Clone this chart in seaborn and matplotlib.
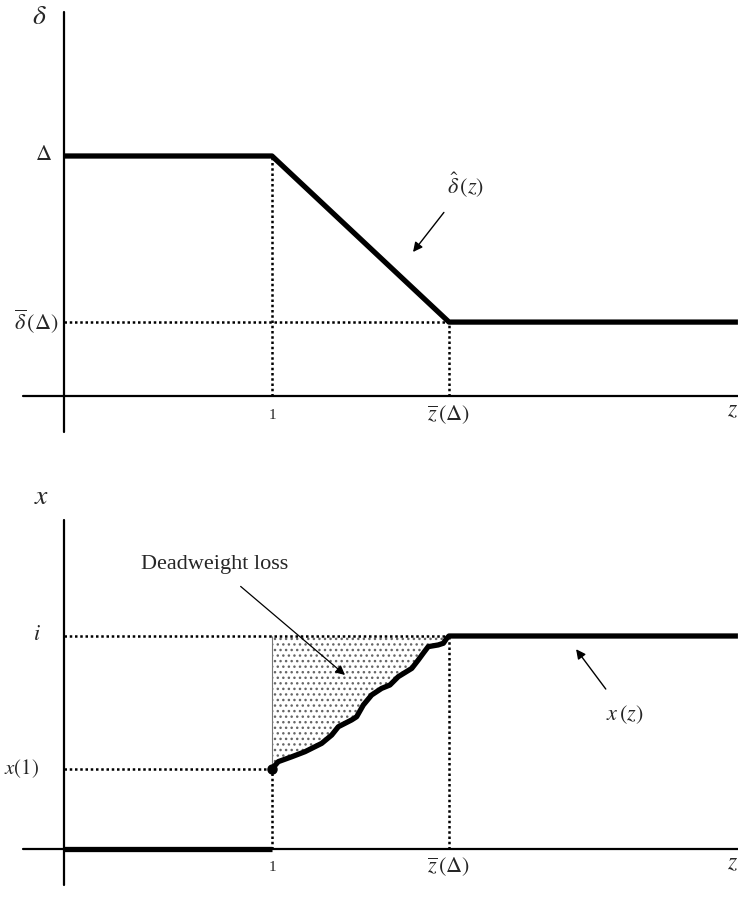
import numpy as np
import matplotlib
matplotlib.use("Agg")
import matplotlib.pyplot as plt
import seaborn as sns

# --- data (z measured so that z=1 is the first kink) ---
z_bar = 1.851          # z-bar(Delta)
delta_top = 1.0        # Delta
delta_bar = 0.308      # delta-bar(Delta)
z_max = 3.24

delta_z = [0.0, 1.0, z_bar, z_max]
delta_vals = [delta_top, delta_top, delta_bar, delta_bar]

i_level = 1.0
x_one = 0.376
x_low_z = [0.0, 1.0]
x_low_vals = [0.0, 0.0]
x_curve_z = [1.0, 1.030, 1.095, 1.159, 1.239, 1.287, 1.319, 1.383, 1.407, 1.439,
             1.479, 1.527, 1.567, 1.607, 1.672, 1.703, 1.727, 1.751, 1.799, 1.824,
             1.840, 1.851, z_max]
x_curve_vals = [0.376, 0.410, 0.433, 0.457, 0.496, 0.535, 0.574, 0.606, 0.621, 0.676,
                0.723, 0.754, 0.770, 0.809, 0.848, 0.887, 0.919, 0.950, 0.958, 0.966,
                0.989, 1.0, 1.0]

sns.set_style("white")
plt.rcParams['font.family'] = ['Liberation Serif', 'DejaVu Serif']
plt.rcParams['mathtext.fontset'] = 'stix'
plt.rcParams['hatch.linewidth'] = 1.0
plt.rcParams['hatch.color'] = '#555555'

fig = plt.figure(figsize=(7.38, 9.09), dpi=100)
ax1 = fig.add_axes([0, 1 - 450 / 909, 1, 450 / 909])
ax2 = fig.add_axes([0, 0, 1, 439 / 909])

xlim = (-64 / 208, 674 / 208)
ax1.set_xlim(*xlim)
ax1.set_ylim(-54 / 240, 396 / 240)
ax2.set_xlim(*xlim)
ax2.set_ylim(-60 / 213, 379 / 213)

for ax in (ax1, ax2):
    ax.axis("off")

dot = dict(color="black", linestyle=(0, (1, 1.1)), linewidth=1.8)
thick = dict(color="black", lw=3.8, sort=False, estimator=None,
             solid_joinstyle="round", solid_capstyle="butt")

# ---------- top panel ----------
ax1.plot([-0.197, z_max], [0, 0], color="black", lw=1.6)
ax1.plot([0, 0], [-0.15, 1.6], color="black", lw=1.6)
ax1.vlines(1.0, 0, delta_top, **dot)
ax1.vlines(z_bar, 0, delta_bar, **dot)
ax1.hlines(delta_bar, 0, z_bar, **dot)
sns.lineplot(x=delta_z, y=delta_vals, ax=ax1, **thick)

ax1.text(-0.12, 1.575, r'$\delta$', fontsize=20, ha="center", va="center")
ax1.text(-0.1, delta_top, r'$\Delta$', fontsize=16, ha="center", va="center")
ax1.text(-0.025, delta_bar, r'$\overline{\delta}\,(\Delta)$', fontsize=16,
         ha="right", va="center")
ax1.text(1.0, -0.08, '1', fontsize=11, ha="center", va="center")
ax1.text(z_bar, -0.08, r'$\overline{z}\,(\Delta)$', fontsize=16, ha="center", va="center")
ax1.text(3.215, -0.06, r'$z$', fontsize=17, ha="center", va="center")
ax1.annotate(r'$\hat{\delta}\,(z)$', xy=(1.678, 0.6), xytext=(1.93, 0.88),
             fontsize=16, ha="center", va="center",
             arrowprops=dict(arrowstyle="-|>", color="black", lw=1.0,
                             mutation_scale=14, shrinkA=9, shrinkB=0))

# ---------- bottom panel ----------
ax2.plot([-0.197, z_max], [0, 0], color="black", lw=1.6)
ax2.plot([0, 0], [-0.17, 1.545], color="black", lw=1.6)
ax2.fill_between(x_curve_z[:-1], x_curve_vals[:-1], i_level,
                 facecolor="white", hatch="...", edgecolor="#666666", linewidth=0)
ax2.vlines(1.0, x_one, i_level, color="#777777", lw=0.8)
ax2.vlines(1.0, 0, x_one, **dot)
ax2.vlines(z_bar, 0, i_level, **dot)
ax2.hlines(i_level, 0, z_bar, **dot)
ax2.hlines(x_one, 0, 1.0, **dot)
sns.lineplot(x=x_low_z, y=x_low_vals, ax=ax2, **thick)
sns.lineplot(x=x_curve_z, y=x_curve_vals, ax=ax2, **thick)
ax2.plot([1.0], [x_one], "o", color="black", ms=6.5)

ax2.text(-0.11, 1.65, r'$x$', fontsize=20, ha="center", va="center")
ax2.text(-0.13, i_level, r'$i$', fontsize=16, ha="center", va="center")
ax2.text(-0.205, x_one, r'$x(1)$', fontsize=15, ha="center", va="center")
ax2.text(1.0, -0.085, '1', fontsize=11, ha="center", va="center")
ax2.text(z_bar, -0.085, r'$\overline{z}\,(\Delta)$', fontsize=16, ha="center", va="center")
ax2.text(3.215, -0.07, r'$z$', fontsize=17, ha="center", va="center")
ax2.annotate('Deadweight loss', xy=(1.351, 0.817), xytext=(0.726, 1.335),
             fontsize=16, ha="center", va="center",
             arrowprops=dict(arrowstyle="-|>", color="black", lw=0.9,
                             mutation_scale=14, shrinkA=10, shrinkB=0))
ax2.annotate(r'$x\,(z)$', xy=(2.462, 0.938), xytext=(2.697, 0.63),
             fontsize=16, ha="center", va="center",
             arrowprops=dict(arrowstyle="-|>", color="black", lw=1.0,
                             mutation_scale=14, shrinkA=10, shrinkB=0))

fig.savefig("out.png", dpi=100)
